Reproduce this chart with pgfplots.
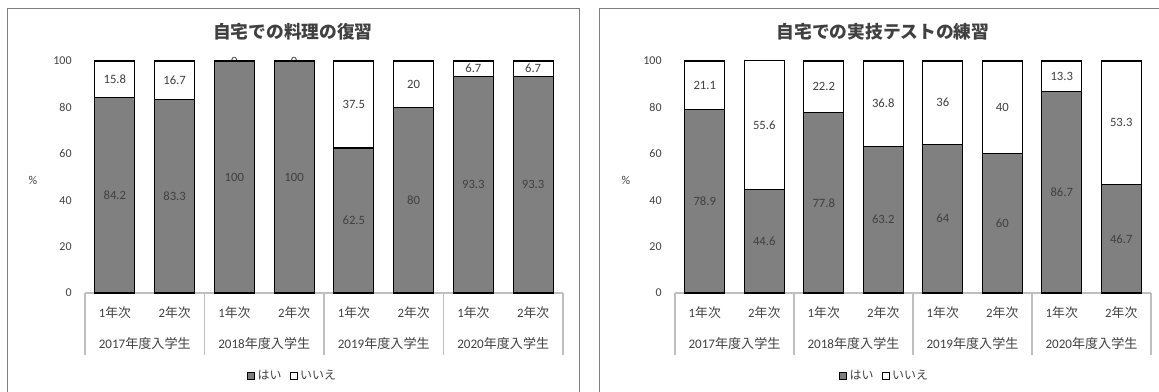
\documentclass[border=0pt]{standalone}
\usepackage{fontspec}
\usepackage{pgfplots}
\pgfplotsset{compat=1.18}
\setmainfont{Carlito}
\newfontfamily\jp{Noto Sans CJK JP}
\definecolor{bargray}{HTML}{808080}
\definecolor{txt}{HTML}{404040}
\definecolor{sepc}{HTML}{BFBFBF}
\definecolor{framec}{HTML}{7F7F7F}

\pgfplotsset{
  panel/.style={
    scale only axis,
    height=174pt,
    ybar stacked,
    bar width=30pt,
    ymin=0, ymax=100,
    xmin=-0.5, xmax=7.5,
    ytick={0,20,40,60,80,100},
    xtick={0,1,2,3,4,5,6,7},
    xticklabels={{1{\jp 年次}},{2{\jp 年次}},{1{\jp 年次}},{2{\jp 年次}},{1{\jp 年次}},{2{\jp 年次}},{1{\jp 年次}},{2{\jp 年次}}},
    axis x line*=bottom, axis y line*=left,
    x axis line style={draw=sepc, line width=0.8pt, -},
    y axis line style={draw=none},
    major tick length=0pt,
    tick style={draw=none},
    /pgf/number format/assume math mode=true,
    yticklabel style={font=\fontsize{9}{10}\selectfont, text=txt, anchor=east, xshift=-6.5pt},
    xticklabel style={font=\fontsize{9.6}{11}\selectfont, text=txt, anchor=center, yshift=-15pt},
    clip=false,
    nodes near coords,
    nodes near coords style={font=\fontsize{9.5}{10}\selectfont, text=txt, anchor=center},
    legend style={anchor=center, draw=none, fill=none, legend columns=-1,
      font=\jp\fontsize{9}{10}\selectfont, text=txt,
      /tikz/every even column/.append style={column sep=4pt}},
    legend image code/.code={\draw[#1, line width=0.7pt] (0pt,-2.6pt) rectangle (5.2pt,2.6pt);},
  },
  yes/.style={fill=bargray, draw=black, line width=0.8pt},
  no/.style={fill=white, draw=black, line width=0.8pt},
}

\newcommand\grouplab[2]{\node[font=\fontsize{9.8}{11}\selectfont, text=txt, yshift=-38.25pt] at (axis cs:#1,0) {#2{\jp 年度入学生}};}
\newcommand\groupdeco{%
  \draw[sepc, line width=0.8pt] (axis cs:-0.5,0) -- ++(0pt,-46.5pt);
  \draw[sepc, line width=0.8pt] (axis cs:1.5,0) -- ++(0pt,-46.5pt);
  \draw[sepc, line width=0.8pt] (axis cs:3.5,0) -- ++(0pt,-46.5pt);
  \draw[sepc, line width=0.8pt] (axis cs:5.5,0) -- ++(0pt,-46.5pt);
  \draw[sepc, line width=0.8pt] (axis cs:7.5,0) -- ++(0pt,-46.5pt);
  \grouplab{0.5}{2017}\grouplab{2.5}{2018}\grouplab{4.5}{2019}\grouplab{6.5}{2020}%
}

\begin{document}
\begin{tikzpicture}
\useasboundingbox (0,0) rectangle (869.25pt,294pt);
\draw[framec, line width=0.75pt] (5.25pt,-3pt) rectangle (434.25pt,287.25pt);
\draw[framec, line width=0.75pt] (449.25pt,-3pt) rectangle (880pt,287.25pt);

\begin{axis}[panel, width=358.5pt, at={(63.75pt,74.25pt)}, anchor=south west,
  legend style={at={(0.435,-0.357)}}]
\addplot[yes] coordinates {(0,84.2) (1,83.3) (2,100) (3,100) (4,62.5) (5,80) (6,93.3) (7,93.3)};
\addplot[no] coordinates {(0,15.8) (1,16.7) (2,0) (3,0) (4,37.5) (5,20) (6,6.7) (7,6.7)};
\legend{はい,いいえ}
\groupdeco
\node[font=\fontsize{9.5}{10}\selectfont, text=txt] at (axis cs:2,100) {0};
\node[font=\fontsize{9.5}{10}\selectfont, text=txt] at (axis cs:3,100) {0};
\node[font=\fontsize{9}{10}\selectfont, text=txt] at (rel axis cs:-0.109,0.487) {\%};
\node[font=\jp\bfseries\fontsize{13.3}{15}\selectfont, text=txt] at (rel axis cs:0.435,1.127) {自宅での料理の復習};
\end{axis}

\begin{axis}[panel, width=357pt, at={(506.25pt,74.25pt)}, anchor=south west,
  legend style={at={(0.441,-0.357)}}]
\addplot[yes] coordinates {(0,78.9) (1,44.6) (2,77.8) (3,63.2) (4,64) (5,60) (6,86.7) (7,46.7)};
\addplot[no] coordinates {(0,21.1) (1,55.6) (2,22.2) (3,36.8) (4,36) (5,40) (6,13.3) (7,53.3)};
\legend{はい,いいえ}
\groupdeco
\node[font=\fontsize{9}{10}\selectfont, text=txt] at (rel axis cs:-0.103,0.487) {\%};
\node[font=\jp\bfseries\fontsize{13.3}{15}\selectfont, text=txt] at (rel axis cs:0.437,1.127) {自宅での実技テストの練習};
\end{axis}
\end{tikzpicture}
\end{document}
